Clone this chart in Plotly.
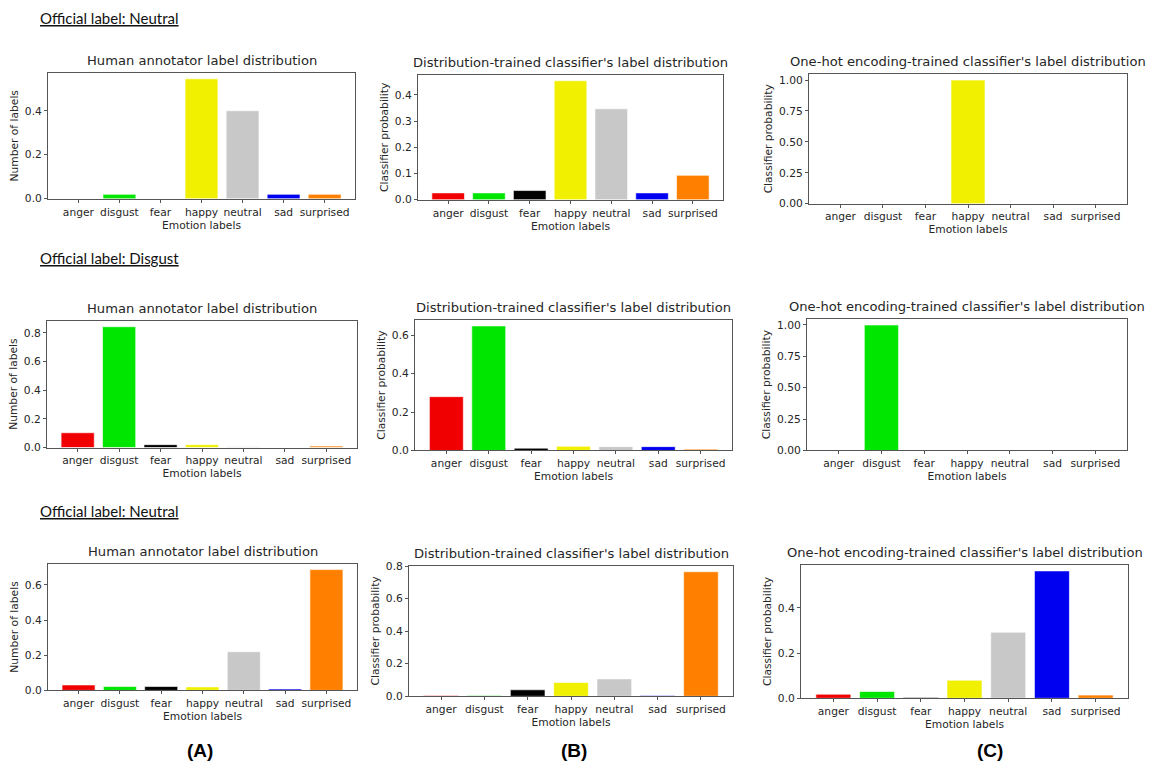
import plotly.graph_objects as go

W, H = 1173, 781

emotions = ["anger", "disgust", "fear", "happy", "neutral", "sad", "surprised"]
bar_colors = ["#f00000", "#00e600", "#000000", "#f0f000", "#c8c8c8", "#0000f0", "#ff8000"]

# Row 1 (official label: Neutral)
human_row1 = [0.0, 0.02, 0.0, 0.545, 0.40, 0.02, 0.02]
dist_row1 = [0.026, 0.026, 0.035, 0.454, 0.347, 0.026, 0.093]
onehot_row1 = [0.0, 0.0, 0.0, 1.0, 0.0, 0.0, 0.0]
# Row 2 (official label: Disgust)
human_row2 = [0.103, 0.843, 0.02, 0.02, 0.005, 0.0, 0.01]
dist_row2 = [0.28, 0.648, 0.012, 0.022, 0.02, 0.02, 0.007]
onehot_row2 = [0.0, 1.0, 0.0, 0.0, 0.0, 0.0, 0.0]
# Row 3 (official label: Neutral)
human_row3 = [0.031, 0.022, 0.022, 0.02, 0.22, 0.008, 0.687]
dist_row3 = [0.005, 0.005, 0.04, 0.085, 0.107, 0.005, 0.765]
onehot_row3 = [0.018, 0.03, 0.004, 0.08, 0.292, 0.563, 0.014]

official_labels = ["Official label: Neutral", "Official label: Disgust", "Official label: Neutral"]
titles = ["Human annotator label distribution",
          "Distribution-trained classifier's label distribution",
          "One-hot encoding-trained classifier's label distribution"]
ytitles = ["Number of labels", "Classifier probability", "Classifier probability"]
xtitle = "Emotion labels"
column_letters = ["(A)", "(B)", "(C)"]

data = [[human_row1, dist_row1, onehot_row1],
        [human_row2, dist_row2, onehot_row2],
        [human_row3, dist_row3, onehot_row3]]

# pixel frames: (x0, x1, y0, y1)
frames = [[(48, 355, 68, 196), (418, 723, 70, 197), (809, 1127, 69, 201)],
          [(47, 357, 320, 449), (415, 732, 319, 452), (807, 1127, 318, 452)],
          [(48, 357, 567, 696), (409, 733, 569, 702), (801, 1128, 568, 704)]]
dticks = [[0.2, 0.1, 0.25], [0.2, 0.2, 0.25], [0.2, 0.2, 0.2]]
tfmts = [[".1f", ".1f", ".2f"], [".1f", ".1f", ".2f"], [".1f", ".1f", ".1f"]]
official_y = [12, 256, 514]

FONT = "DejaVu Sans"
TXT = "#262626"
fig = go.Figure()
annotations = []

k = 0
for r in range(3):
    for c in range(3):
        k += 1
        xa = "x" if k == 1 else f"x{k}"
        ya = "y" if k == 1 else f"y{k}"
        vals = data[r][c]
        fig.add_trace(go.Bar(x=list(range(len(emotions))), y=vals, marker_color=bar_colors,
                             marker_line_width=0.6, marker_line_color="white", width=0.8,
                             xaxis=xa, yaxis=ya, showlegend=False))
        x0, x1, y0, y1 = frames[r][c]
        xd = [x0 / W, x1 / W]
        yd = [1 - y1 / H, 1 - y0 / H]
        common = dict(showline=True, linecolor="#555555", linewidth=1, mirror=True,
                      showgrid=False, zeroline=False, ticks="outside", ticklen=3,
                      tickcolor="#555555", tickfont=dict(family=FONT, size=10.7, color=TXT))
        fig.layout[f"xaxis{'' if k == 1 else k}"] = dict(
            domain=xd, anchor=ya, range=[-0.74, 6.74], tickmode="array",
            tickvals=list(range(len(emotions))), ticktext=emotions, tickangle=0,
            title=dict(text=xtitle, font=dict(family=FONT, size=10.7, color=TXT), standoff=1),
            **common)
        fig.layout[f"yaxis{'' if k == 1 else k}"] = dict(
            domain=yd, anchor=xa, range=[0, max(vals) * 1.05], dtick=dticks[r][c],
            tick0=0, tickformat=tfmts[r][c],
            title=dict(text=ytitles[c], font=dict(family=FONT, size=10.7, color=TXT), standoff=4),
            **common)
        annotations.append(dict(text=titles[c], x=(x0 + x1) / 2 / W, y=1 - (y0 - 3) / H,
                                xref="paper", yref="paper", xanchor="center", yanchor="bottom",
                                showarrow=False, font=dict(family=FONT, size=13.1, color=TXT)))
    annotations.append(dict(text=f"<u>{official_labels[r]}</u>", x=38 / W, y=1 - official_y[r] / H,
                            xref="paper", yref="paper", xanchor="left", yanchor="middle",
                            showarrow=False, font=dict(family="Lato", size=15, color="#111111")))

for i, (lab, xc) in enumerate(zip(column_letters, [200, 574, 990])):
    annotations.append(dict(text=f"<b>{lab}</b>", x=xc / W, y=1 - 757 / H, xref="paper", yref="paper",
                            xanchor="center", yanchor="middle", showarrow=False,
                            font=dict(family="Liberation Sans", size=19, color="#000000")))

fig.update_layout(width=W, height=H, margin=dict(l=0, r=0, t=0, b=0),
                  paper_bgcolor="white", plot_bgcolor="white", annotations=annotations,
                  bargap=0.2)

fig.write_html("out.html", config={"displayModeBar": False},
               post_script="document.body.style.margin='0';document.body.style.overflow='hidden';")
